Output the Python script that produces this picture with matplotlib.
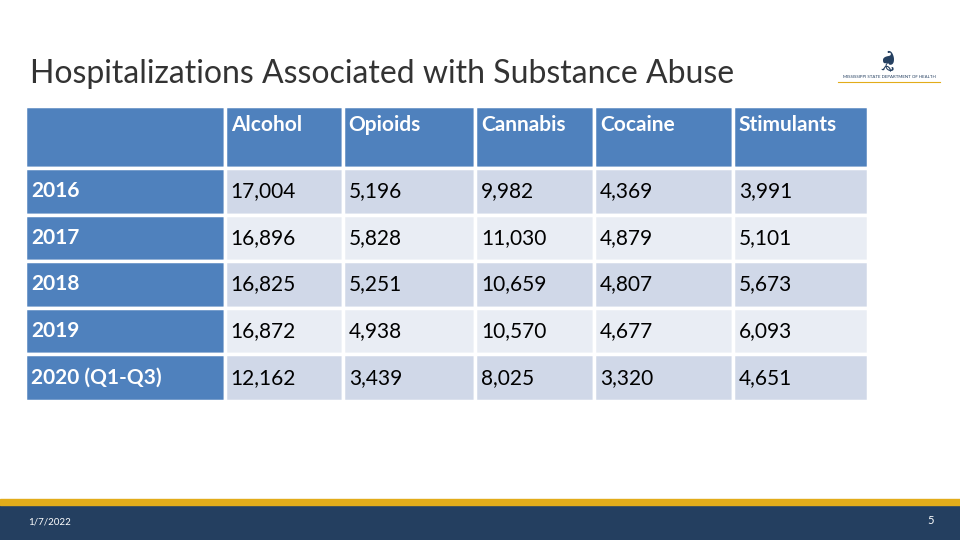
import matplotlib.pyplot as plt
from matplotlib.patches import Rectangle

# table data
substances = ["Alcohol", "Opioids", "Cannabis", "Cocaine", "Stimulants"]
years = ["2016", "2017", "2018", "2019", "2020 (Q1-Q3)"]
alcohol = [17004, 16896, 16825, 16872, 12162]
opioids = [5196, 5828, 5251, 4938, 3439]
cannabis = [9982, 11030, 10659, 10570, 8025]
cocaine = [4369, 4879, 4807, 4677, 3320]
stimulants = [3991, 5101, 5673, 6093, 4651]

title = "Hospitalizations Associated with Substance Abuse"
date_label = "1/7/2022"
page_no = "5"

BLUE = "#4F81BD"
ROW_DARK = "#D0D8E8"
ROW_LIGHT = "#E9EDF4"
NAVY = "#243F60"
GOLD = "#E2AC1A"

plt.rcParams["font.family"] = ["Lato", "DejaVu Sans"]

fig = plt.figure(figsize=(9.6, 5.4), dpi=100)
ax = fig.add_axes([0, 0, 1, 1])
ax.set_xlim(0, 960)
ax.set_ylim(540, 0)
ax.axis("off")

# title
ax.text(30, 74, title, fontsize=23, color="#333333",
        va="center", ha="left")

# logo stand-in
ax.text(889, 77, "MISSISSIPPI STATE DEPARTMENT OF HEALTH", fontsize=3.2,
        color=NAVY, ha="center", va="center")
ax.plot([838, 940], [82, 82], color=GOLD, lw=0.8)
ax.text(889, 58, "\u2767", fontsize=22, color=NAVY, ha="center", va="center",
        rotation=90, family=["DejaVu Sans"])

# footer
ax.add_patch(Rectangle((0, 505), 960, 35, color=NAVY, zorder=1))
ax.add_patch(Rectangle((0, 499), 960, 6, color=GOLD, zorder=1))
ax.text(28, 522, date_label, fontsize=7, color="white", va="center", zorder=3)
ax.text(931, 520, page_no, fontsize=8, color="white", va="center",
        ha="center", zorder=3)

# table
columns = [alcohol, opioids, cannabis, cocaine, stimulants]
cell_text = []
for i, y in enumerate(years):
    cell_text.append([y] + [f"{col[i]:,}" for col in columns])
header = [""] + substances

col_w = [199.5, 118, 132, 119, 139, 135]
tbl = ax.table(cellText=[header] + cell_text, cellLoc="left",
               colWidths=[w / sum(col_w) for w in col_w],
               bbox=[25 / 960, (540 - 401) / 540, 843 / 960, 295 / 540])
tbl.auto_set_font_size(False)
tbl.set_fontsize(15)

for (r, c), cell in tbl.get_celld().items():
    cell.set_edgecolor("white")
    cell.set_linewidth(2.5)
    cell.set_height(62 if r == 0 else 46.6)
    cell.PAD = 6 / col_w[c]
    txt = cell.get_text()
    if r == 0:
        cell.set_facecolor(BLUE)
        txt.set_color("white")
        txt.set_fontweight("bold")
        txt.set_text(txt.get_text() + "\n ")
        txt.set_linespacing(1.3)
    elif c == 0:
        cell.set_facecolor(BLUE)
        txt.set_color("white")
        txt.set_fontweight("bold")
    else:
        cell.set_facecolor(ROW_DARK if r % 2 == 1 else ROW_LIGHT)
        txt.set_color("black")

fig.savefig("out.png", dpi=100)
plt.close(fig)
